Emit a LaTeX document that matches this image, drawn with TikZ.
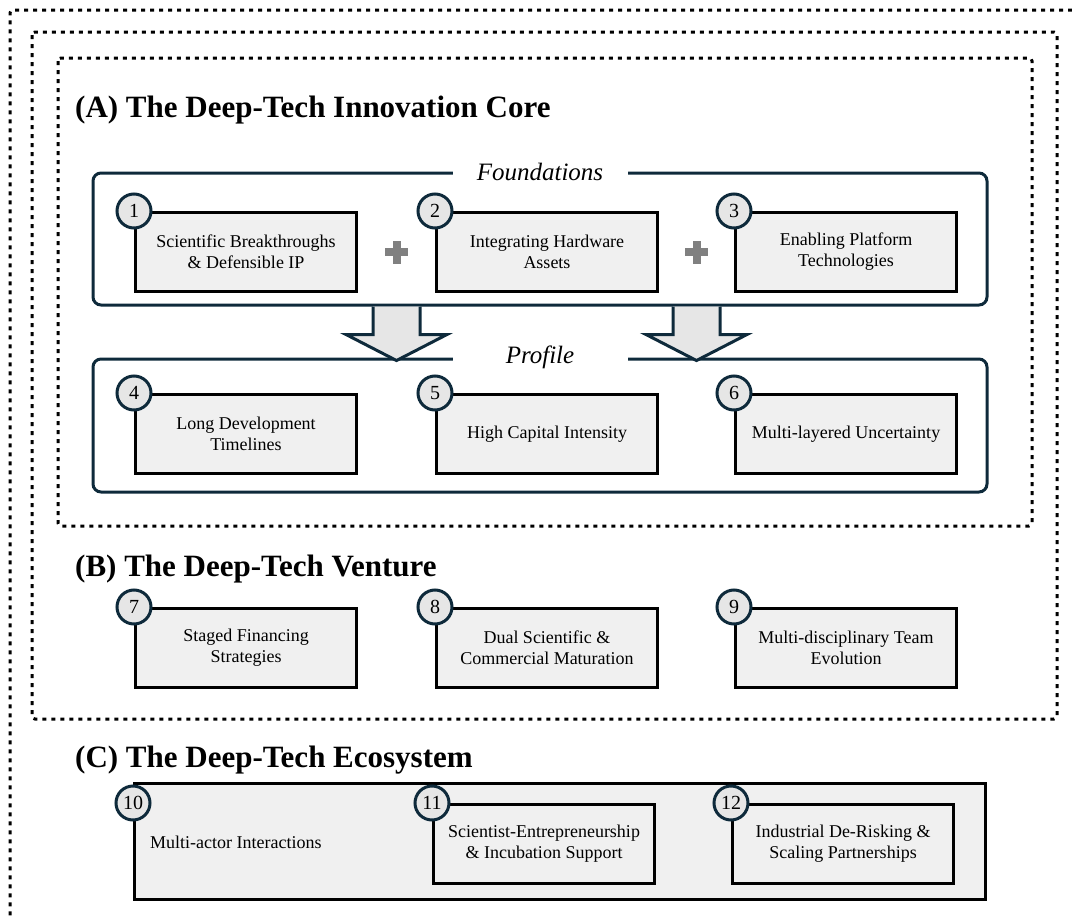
\documentclass[tikz,border=0pt]{standalone}
\usepackage{fontspec}
\setmainfont{Liberation Serif}
\usetikzlibrary{positioning,fit,calc}

\definecolor{navy}{RGB}{14,42,59}
\definecolor{boxgray}{RGB}{240,240,240}
\definecolor{badgegray}{RGB}{230,230,230}
\definecolor{plusgray}{RGB}{128,128,128}

\begin{document}
\begin{tikzpicture}[
  x=1pt, y=-1pt,
  frame/.style={line width=3pt, dash pattern=on 4pt off 5pt, rounded corners=3pt},
  group/.style={draw=navy, line width=3pt, rounded corners=8pt, inner sep=0pt},
  item/.style={draw=black, line width=3pt, fill=boxgray, align=center, minimum width=221pt, minimum height=79pt, inner sep=0pt, font=\fontsize{18}{21}\selectfont},
  badge/.style={circle, draw=navy, line width=3pt, fill=badgegray, minimum size=34pt, inner sep=0pt, font=\fontsize{20}{20}\selectfont},
  head/.style={anchor=base west, inner sep=0pt, font=\fontsize{31}{31}\selectfont\bfseries},
  tag/.style={fill=white, minimum width=175pt, inner sep=0pt, font=\fontsize{25}{25}\selectfont\itshape},
  bigarrow/.style={draw=navy, fill=badgegray, line width=3pt, line join=miter},
  plus/.style={fill=plusgray}
]
\useasboundingbox (0,0) rectangle (1072,918);

% nested dotted frames
\draw[frame] (1072,10) -- (10,10) -- (10,918);
\draw[frame] (32,32) rectangle (1057,719);
\draw[frame] (58,58) rectangle (1032,526);

\node[head] (titleA) at (75,117) {(A) The Deep-Tech Innovation Core};
\node[head] (titleB) at (75,576) {(B) The Deep-Tech Venture};
\node[head] (titleC) at (75,767) {(C) The Deep-Tech Ecosystem};

% (A) foundations and profile
\node[group, fit={(93,173) (987,305)}] (found) {};
\node[group, fit={(93,359) (987,492)}] (prof) {};
\node[tag] (foundtag) at (found.north) {Foundations};
\node[tag] (proftag) at (prof.north) {Profile};

\node[item, anchor=north west] (f1) at (134,211) {Scientific Breakthroughs\\\& Defensible IP};
\node[item, right=77pt of f1] (f2) {Integrating Hardware\\Assets};
\node[item, right=75pt of f2] (f3) {Enabling Platform\\Technologies};

\node[item, anchor=north west] (p1) at (134,393) {Long Development\\Timelines};
\node[item, right=77pt of p1] (p2) {High Capital Intensity};
\node[item, right=75pt of p2] (p3) {Multi-layered Uncertainty};

\coordinate (plus1) at ($(f1.east)!0.5!(f2.west)$);
\coordinate (plus2) at ($(f2.east)!0.5!(f3.west)$);
\foreach \p in {plus1,plus2} {
  \fill[plus] (\p) ++(-11.5,-4) rectangle ++(23,8);
  \fill[plus] (\p) ++(-4,-11.5) rectangle ++(8,23);
  \draw[bigarrow] (\p |- found.south) ++(-23.5,0) -- ++(0,28) -- ++(-27,0)
    -- ++(50.5,26) -- ++(50.5,-26) -- ++(-27,0) -- ++(0,-28);
}

% (B) venture
\node[item, anchor=north west] (v1) at (134,607) {Staged Financing\\Strategies};
\node[item, right=77pt of v1] (v2) {Dual Scientific \&\\Commercial Maturation};
\node[item, right=75pt of v2] (v3) {Multi-disciplinary Team\\Evolution};

% (C) ecosystem
\node[item, anchor=north west, minimum width=851pt, minimum height=116pt] (eco) at (133,782) {};
\node[item, anchor=north west] (e2) at (432,803) {Scientist-Entrepreneurship\\\& Incubation Support};
\node[item, right=75pt of e2] (e3) {Industrial De-Risking \&\\Scaling Partnerships};
\node[anchor=west, inner sep=0pt, font=\fontsize{18}{21}\selectfont] (e1) at (150,842) {Multi-actor Interactions};

% number badges
\node[badge] (n1) at (f1.north west) {1};
\node[badge] (n2) at (f2.north west) {2};
\node[badge] (n3) at (f3.north west) {3};
\node[badge] (n4) at (p1.north west) {4};
\node[badge] (n5) at (p2.north west) {5};
\node[badge] (n6) at (p3.north west) {6};
\node[badge] (n7) at (v1.north west) {7};
\node[badge] (n8) at (v2.north west) {8};
\node[badge] (n9) at (v3.north west) {9};
\node[badge] (n10) at (eco.west |- e2.north) {10};
\node[badge] (n11) at (e2.north west) {11};
\node[badge] (n12) at (e3.north west) {12};

\end{tikzpicture}
\end{document}
